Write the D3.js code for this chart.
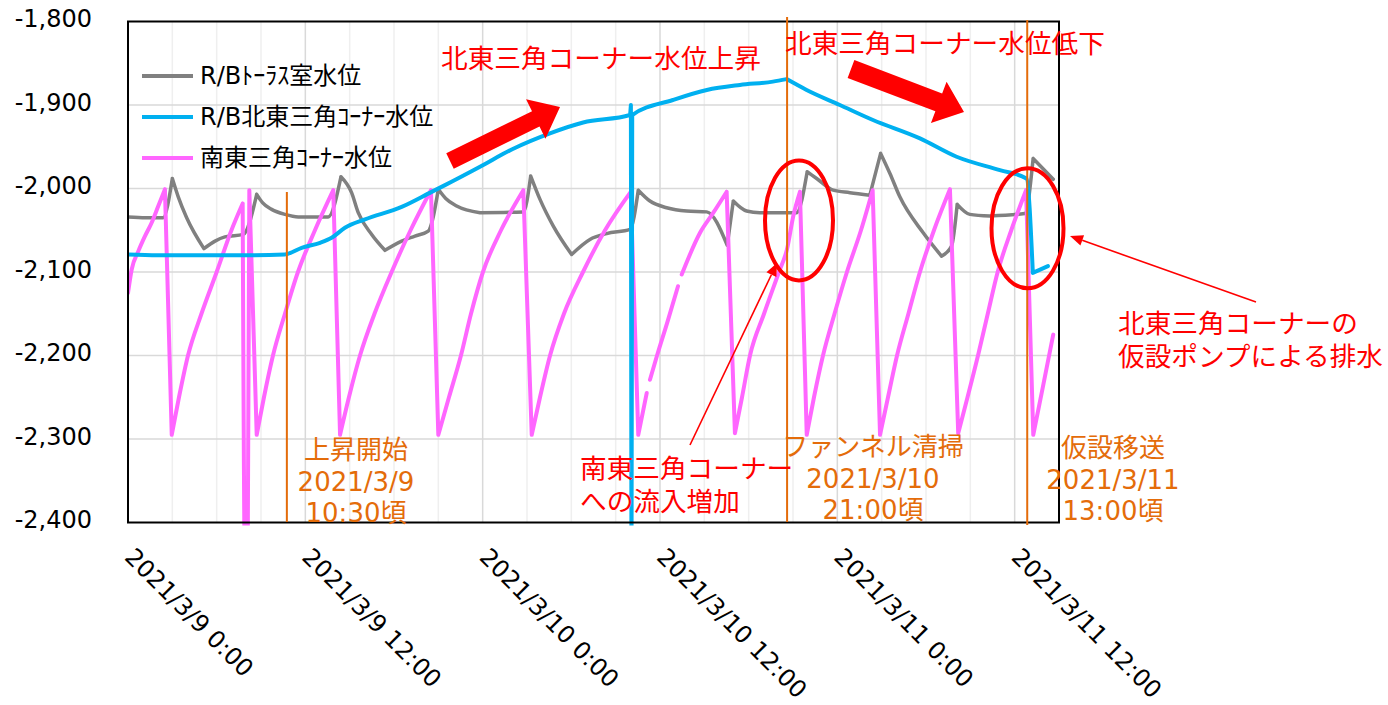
<!DOCTYPE html>
<html><head><meta charset="utf-8">
<script src="https://cdn.jsdelivr.net/npm/d3@7"></script>
<style>
body{margin:0;background:#fff}
svg{display:block}
text{font-family:"DejaVu Sans","Noto Sans CJK JP",sans-serif}
</style>
</head><body>
<svg id="chart" width="1388" height="705"></svg>
<script>
// ---------- DATA (hours since 2021/3/9 0:00, level in mm) ----------
const startTime = new Date(2021, 2, 9, 0, 0);
const endTime = new Date(2021, 2, 11, 15, 0);

const seriesNames = ["R/Bﾄｰﾗｽ室水位", "R/B北東三角ｺｰﾅｰ水位", "南東三角ｺｰﾅｰ水位"];

const torusHours = [0,1.2,2.37,3.0,3.4,3.97,5.14,5.89,6.56,7.8,8.71,9.1,9.72,10.62,11.52,13.55,14.41,15.13,15.58,16.49,17.39,18.52,19.42,20.32,21.0,21.5,22.24,23.82,26.75,27.25,27.88,28.78,30.02,31.26,32.39,33.97,34.53,35.32,36.45,37.8,39.16,40.55,40.96,41.86,42.76,45.24,45.96,46.6,47.72,48.85,50.2,50.93,51.56,52.23,53.81,55.05,55.73,56.11,56.97,58.32,60.69,61.25,62.61];
const torusLevels = [-2034,-2035,-2035,-1988,-2010,-2035,-2072,-2063,-2058,-2055,-2007,-2017,-2025,-2031,-2034,-2034,-1986,-2005,-2029,-2055,-2074,-2063,-2057,-2051,-2001,-2012,-2021,-2029,-2028,-1985,-2013,-2045,-2079,-2061,-2054,-2049,-2002,-2015,-2023,-2027,-2028,-2068,-2015,-2027,-2029,-2029,-1980,-1988,-2002,-2005,-2008,-1958,-1982,-2010,-2053,-2081,-2069,-2019,-2031,-2033,-2030,-1964,-1989];

const neHours = [0,2,5,8,10.6,11.75,13.0,13.78,14.68,16.04,18.52,20.55,21.45,23.82,26.0,28.55,30.8,33.96,34.03,34.07,34.12,36.87,39.17,41.41,43.64,44.57,45.92,48.17,50.41,53.59,56.07,59.0,60.8,61.23,62.25];
const neLevels = [-2079,-2080,-2080,-2080,-2079,-2071,-2065,-2059,-2047,-2037,-2022,-2004,-1996,-1974,-1953,-1934,-1921,-1912,-1900,-2480,-1912,-1894,-1882,-1876,-1872,-1869,-1882,-1900,-1918,-1940,-1962,-1978,-1988,-2101,-2093];

const seHours = [0,0.25,0.7,1.15,1.6,2.05,2.5,2.96,3.45,4.06,4.97,6.0,7.0,7.76,7.93,8.09,8.21,8.71,9.2,9.81,10.62,11.5,12.65,13.89,14.35,14.95,15.7,16.68,17.84,19.12,20.5,21.0,21.72,22.53,23.21,24.02,25.24,26.75,27.32,27.88,28.56,29.5,30.79,32.28,34.02,34.53,35.1,35.2,35.32,35.8,36.5,37.22,37.34,37.47,38.71,39.61,40.51,41.07,41.55,42.09,43.04,44.05,44.59,45.02,45.47,45.93,46.42,47.03,47.81,48.65,49.6,50.39,50.89,51.43,52.04,52.81,53.59,54.54,55.62,56.18,56.81,57.52,58.18,58.85,59.77,60.77,61.26,61.94,62.61];
const seLevels = [-2125,-2097,-2075,-2057,-2041,-2021,-2001,-2295,-2250,-2200,-2150,-2100,-2050,-2018,-2480,-2480,-2002,-2295,-2250,-2200,-2150,-2100,-2050,-2002,-2295,-2250,-2200,-2150,-2100,-2050,-2002,-2295,-2250,-2200,-2150,-2100,-2050,-2002,-2295,-2250,-2200,-2150,-2100,-2050,-2004,-2295,-2245,null,-2229,-2200,-2160,-2117,null,-2103,-2053,-2029,-2004,-2293,-2250,-2200,-2150,-2100,-2073,-2033,-2004,-2295,-2250,-2200,-2150,-2100,-2050,-2002,-2295,-2250,-2200,-2150,-2100,-2050,-2001,-2293,-2250,-2200,-2150,-2100,-2050,-2002,-2295,-2235,-2175];

const yTickValues = [-2400,-2300,-2200,-2100,-2000,-1900,-1800];
const yTickLabels = ["-2,400","-2,300","-2,200","-2,100","-2,000","-1,900","-1,800"];
const xTickHours = [0,12,24,36,48,60];
const xTickLabels = ["2021/3/9 0:00","2021/3/9 12:00","2021/3/10 0:00","2021/3/10 12:00","2021/3/11 0:00","2021/3/11 12:00"];

// event markers (hours) and their labels
const eventHours = [10.75, 44.6, 60.85];
const eventLabels = [["上昇開始","2021/3/9","10:30頃"],["ファンネル清掃","2021/3/10","21:00頃"],["仮設移送","2021/3/11","13:00頃"]];
const noteTexts = [["北東三角コーナー水位上昇"],["北東三角コーナー水位低下"],["北東三角コーナーの","仮設ポンプによる排水"],["南東三角コーナー","への流入増加"]];

// ---------- LAYOUT ----------
const plot = {left:128, right:1059, top:21.5, bottom:522.5};
const colors = {torus:"#808080", ne:"#00B0F0", se:"#FF66FF", orange:"#E46C0A", red:"#FF0000"};

const svg = d3.select("#chart");
const hDate = h => new Date(startTime.getTime() + h*3600e3);

const x = d3.scaleTime().domain([startTime, endTime]).range([plot.left, plot.right]);
const y = d3.scaleLinear().domain([-2400, -1800]).range([plot.bottom, plot.top]);

// gridlines
const grid = svg.append("g");
const gridHours = d3.range(3, 63, 3);
grid.selectAll("line.v").data(gridHours).join("line")
  .attr("x1", d => x(hDate(d))).attr("x2", d => x(hDate(d)))
  .attr("y1", plot.top).attr("y2", plot.bottom)
  .attr("stroke", d => d % 12 === 0 ? "#d9d9d9" : "#efefef")
  .attr("stroke-width", 1.5);
grid.selectAll("line.h").data(yTickValues.slice(1, -1)).join("line")
  .attr("x1", plot.left).attr("x2", plot.right)
  .attr("y1", d => y(d)).attr("y2", d => y(d))
  .attr("stroke", "#d9d9d9").attr("stroke-width", 1.5);

// clip
svg.append("clipPath").attr("id","clip").append("rect")
  .attr("x", plot.left).attr("y", plot.top)
  .attr("width", plot.right - plot.left).attr("height", plot.bottom - plot.top + 3);

const mk = (hs, vs) => hs.map((h,i) => ({t: hDate(h), v: vs[i]}));
const segLine = d3.line().x(d => x(d.t)).y(d => y(d.v)).curve(d3.curveMonotoneX);

// split into runs (gaps) and monotone pieces (break at peaks/troughs so corners stay sharp)
function pathFor(pts){
  const runs = []; let cur = [];
  pts.forEach(p => { if (p.v === null) { if (cur.length) runs.push(cur); cur = []; } else cur.push(p); });
  if (cur.length) runs.push(cur);
  const parts = [];
  runs.forEach(r => {
    let s = 0;
    for (let i = 1; i < r.length - 1; i++) {
      const a = r[i].v - r[i-1].v, b = r[i+1].v - r[i].v;
      if (a * b < 0) { parts.push(r.slice(s, i+1)); s = i; }
    }
    parts.push(r.slice(s));
  });
  return parts.map(p => p.length > 1 ? segLine(p) : "").join("");
}

const lines = svg.append("g").attr("clip-path","url(#clip)");
[[torusHours, torusLevels, colors.torus, 3.5],
 [seHours, seLevels, colors.se, 4],
 [neHours, neLevels, colors.ne, 4]].forEach(s => {
  lines.append("path").attr("d", pathFor(mk(s[0], s[1])))
    .attr("fill","none").attr("stroke", s[2]).attr("stroke-width", s[3])
    .attr("stroke-linejoin","round").attr("stroke-linecap","round");
});

// frame
svg.append("rect").attr("x", plot.left).attr("y", plot.top)
  .attr("width", plot.right - plot.left).attr("height", plot.bottom - plot.top)
  .attr("fill","none").attr("stroke","#000").attr("stroke-width",2);

// y axis
const yAxis = d3.axisLeft(y).tickValues(yTickValues)
  .tickFormat((d,i) => yTickLabels[i]).tickSize(0).tickPadding(36);
const gy = svg.append("g").attr("transform", `translate(${plot.left},0)`).call(yAxis);
gy.select(".domain").remove();
gy.selectAll("text").attr("font-size", 24).attr("fill","#000")
  .attr("font-family", "DejaVu Sans").attr("dy", "0.22em");

// x axis
const xAxis = d3.axisBottom(x).tickValues(xTickHours.map(hDate))
  .tickFormat((d,i) => xTickLabels[i]).tickSize(0);
const gx = svg.append("g").attr("transform", `translate(0,${plot.bottom})`).call(xAxis);
gx.select(".domain").remove();
gx.selectAll("text").attr("font-size", 24).attr("fill","#000")
  .attr("font-family", "DejaVu Sans")
  .attr("x", 0).attr("y", 0).attr("dy", 0)
  .attr("text-anchor", "start")
  .attr("transform", "translate(-5,36) rotate(45)");

// legend
const legendY = [76, 117, 158];
const legColors = [colors.torus, colors.ne, colors.se];
const leg = svg.append("g");
seriesNames.forEach((n,i) => {
  leg.append("line").attr("x1",142).attr("x2",193).attr("y1",legendY[i]).attr("y2",legendY[i])
    .attr("stroke", legColors[i]).attr("stroke-width",4);
  leg.append("text").attr("x",200).attr("y",legendY[i]).attr("dy","0.35em")
    .attr("font-size",24).attr("fill","#000").text(n);
});

// event vertical lines
const evTop = [192, 17, 20], evBottom = [522, 522, 525];
eventHours.forEach((h,i) => {
  svg.append("line").attr("x1", x(hDate(h))).attr("x2", x(hDate(h)))
    .attr("y1", evTop[i]).attr("y2", evBottom[i])
    .attr("stroke", colors.orange).attr("stroke-width", 2);
});
const evTextX = [356, 873, 1113], evTextY = [450, 447, 448];
eventLabels.forEach((lbl,i) => {
  lbl.forEach((s,j) => {
    svg.append("text").attr("x", evTextX[i]).attr("y", evTextY[i] + j*31.5)
      .attr("dy","0.36em").attr("text-anchor","middle")
      .attr("font-size",26).attr("fill", colors.orange).text(s);
  });
});

// red notes
const notePos = [[441,58],[785,43],[1118,323],[580,468]];
noteTexts.forEach((ls,i) => {
  ls.forEach((s,j) => {
    svg.append("text").attr("x", notePos[i][0]).attr("y", notePos[i][1] + j*33)
      .attr("dy","0.36em").attr("font-family","Noto Sans CJK JP")
      .attr("font-size",26.67).attr("fill", colors.red).text(s);
  });
});

// block arrows
function blockArrow(x1,y1,x2,y2,sw,hw,hl){
  const dx=x2-x1, dy=y2-y1, L=Math.hypot(dx,dy), ux=dx/L, uy=dy/L, nx=-uy, ny=ux;
  const bx=x2-ux*hl, by=y2-uy*hl;
  const p=[[x1+nx*sw/2,y1+ny*sw/2],[bx+nx*sw/2,by+ny*sw/2],[bx+nx*hw/2,by+ny*hw/2],[x2,y2],
           [bx-nx*hw/2,by-ny*hw/2],[bx-nx*sw/2,by-ny*sw/2],[x1-nx*sw/2,y1-ny*sw/2]];
  svg.append("polygon").attr("points", p.map(q=>q.join(",")).join(" ")).attr("fill", colors.red);
}
blockArrow(450,161,560,107,17,44,27);
blockArrow(851,69,964,112,19,44,27);

// ellipses
[[799,220.4,34,60],[1027.5,228.3,36,60]].forEach(e => {
  svg.append("ellipse").attr("cx",e[0]).attr("cy",e[1]).attr("rx",e[2]).attr("ry",e[3])
    .attr("fill","none").attr("stroke",colors.red).attr("stroke-width",4);
});

// thin arrows
function thinArrow(x1,y1,x2,y2){
  const dx=x2-x1, dy=y2-y1, L=Math.hypot(dx,dy), ux=dx/L, uy=dy/L, nx=-uy, ny=ux;
  const hl=13, hw=11, bx=x2-ux*hl, by=y2-uy*hl;
  svg.append("line").attr("x1",x1).attr("y1",y1).attr("x2",bx).attr("y2",by)
    .attr("stroke",colors.red).attr("stroke-width",1.6);
  svg.append("polygon").attr("points",[[x2,y2],[bx+nx*hw/2,by+ny*hw/2],[bx-nx*hw/2,by-ny*hw/2]].map(q=>q.join(",")).join(" "))
    .attr("fill",colors.red);
}
thinArrow(690,445,777,263);
thinArrow(1256,302,1070,236);
</script>
</body></html>
